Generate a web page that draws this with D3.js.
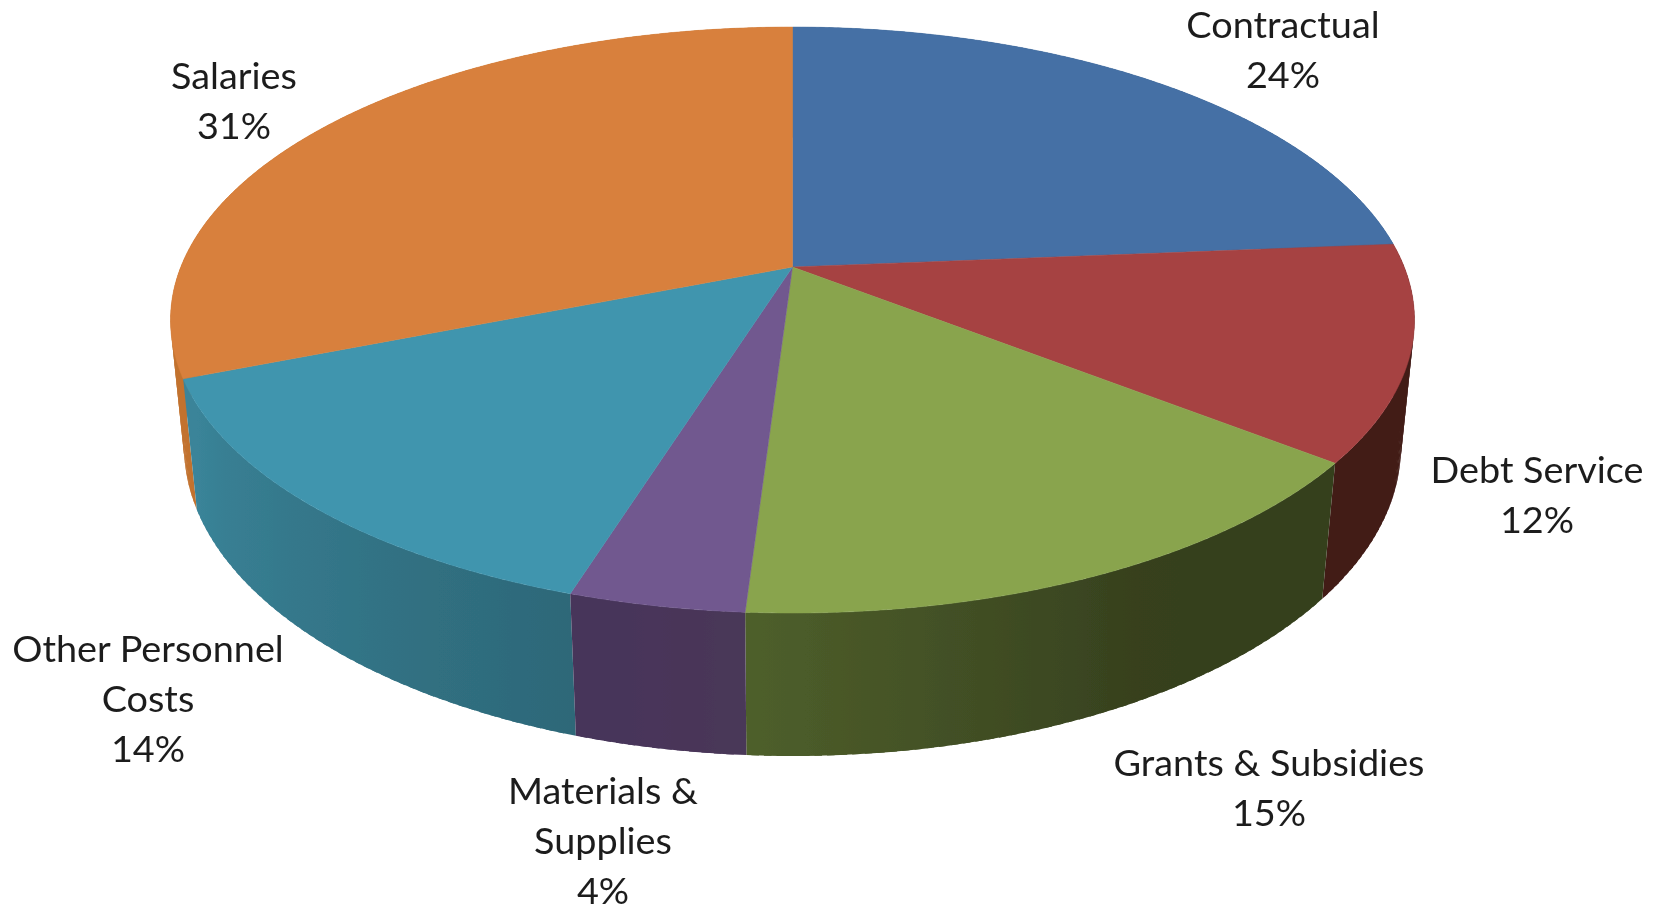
<!DOCTYPE html>
<html><head><meta charset="utf-8">
<script src="https://cdn.jsdelivr.net/npm/d3@7"></script>
<style>html,body{margin:0;padding:0;background:#fff}svg{display:block}text{font-family:Lato,"Open Sans",sans-serif;font-size:36px;fill:#1c1c1c;text-anchor:middle}</style>
</head><body><svg id="c" width="1662" height="911"></svg>
<script>
const categories=["Contractual","Debt Service","Grants & Subsidies","Materials & Supplies","Other Personnel Costs","Salaries"];
const values=[23.7,11.85,15.46,3.85,14.14,31];
const topColors=["#4570a5","#a64342","#89a44e","#71588f","#4095ae","#d8803c"];
const sideNear=["#3a5c88","#421b19","#36401e","#4a3759","#2d6878","#c2722f"];
const sideFar=["#3a5c88","#421b19","#4e5f2b","#46345a","#3a8499","#c2722f"];
const labelLines=[["Contractual","24%"],["Debt Service","12%"],["Grants & Subsidies","15%"],["Materials &","Supplies","4%"],["Other Personnel","Costs","14%"],["Salaries","31%"]];
const labelAnchors=[[1283,25],[1537,470],[1269,763],[603,791],[148,649],[234,76]];

const svg=d3.select("#c");
const defs=svg.append("defs");
defs.append("filter").attr("id","soft").attr("x","-5%").attr("y","-5%").attr("width","110%").attr("height","110%")
  .append("feGaussianBlur").attr("stdDeviation",0.7);
const root=svg.append("g").attr("filter","url(#soft)");

// perspective camera for the disc
const cam={cx:792.5,cy:267,b:611.7,a:283.4,k:0.181,c:127.6,m:0.0215};
function project(t,z){
  const u=Math.sin(t),v=-Math.cos(t),w=1-cam.k*v+cam.m*z;
  return [cam.cx+cam.b*u/w, cam.cy+(cam.a*v+cam.c*z)/w];
}
const arcs=d3.pie().sort(null).value(d=>d)(values);
const DEG=Math.PI/180;
const line=d3.line();
function wall(a0,a1){
  return line([project(a0,0),project(a1,0),project(a1,1),project(a0,1)])+"Z";
}
// side wall: one horizontal gradient per slice, painted on narrow overlapping facets
const lightT=d3.scaleLinear().domain([150*DEG,262*DEG]).range([0,1]).clamp(true);
const order=arcs.map((d,i)=>({d,i})).sort((p,q)=>
  -Math.cos((p.d.startAngle+p.d.endAngle)/2)+Math.cos((q.d.startAngle+q.d.endAngle)/2));
const sides=root.append("g");
order.forEach(({d,i})=>{
  const col=d3.interpolateRgb(sideNear[i],sideFar[i]);
  const lo=lightT(d.startAngle),hi=lightT(d.endAngle);
  const N=12;
  const aS=d3.scaleLinear().domain([0,N]).range([d.startAngle,d.endAngle]);
  const samples=d3.range(N+1).map(j=>{
    const a=aS(j),lt=lightT(a);
    return {x:project(a,1)[0],c:col(hi>lo?(lt-lo)/(hi-lo):0)};
  });
  const [x0,x1]=d3.extent(samples,s=>s.x);
  const ordered=samples.slice().sort((p,q)=>p.x-q.x);
  const g=defs.append("linearGradient").attr("id","side"+i).attr("gradientUnits","userSpaceOnUse")
    .attr("x1",x0).attr("x2",x1).attr("y1",0).attr("y2",0);
  g.selectAll("stop").data(ordered).join("stop")
    .attr("offset",s=>(s.x-x0)/(x1-x0)).attr("stop-color",s=>s.c);
  const n=Math.ceil((d.endAngle-d.startAngle)/(1*DEG));
  const span=d3.scaleLinear().domain([0,n]).range([d.startAngle,d.endAngle]);
  sides.append("g").selectAll("path").data(d3.range(n)).join("path")
    .attr("d",j=>wall(span(j),Math.min(d.endAngle,span(j+1)+0.6*DEG)))
    .attr("fill",`url(#side${i})`);
});

// top face
root.append("g").selectAll("path").data(arcs).join("path")
  .attr("d",d=>{
    const n=Math.ceil((d.endAngle-d.startAngle)/(0.5*DEG));
    const s=d3.scaleLinear().domain([0,n]).range([d.startAngle,d.endAngle]);
    return line([[cam.cx,cam.cy],...d3.range(n+1).map(j=>project(s(j),0))])+"Z";
  })
  .attr("fill",(d,i)=>topColors[i]).attr("stroke",(d,i)=>topColors[i]).attr("stroke-width",0.5);

// labels
const lh=50.3;
const lab=root.append("g").selectAll("text").data(categories).join("text")
  .attr("transform",(d,i)=>`translate(${labelAnchors[i][0]},${labelAnchors[i][1]}) scale(1.05,1)`);
lab.selectAll("tspan").data((d,i)=>labelLines[i]).join("tspan")
  .attr("x",0).attr("y",(d,j)=>j*lh+12.5).text(d=>d);
</script></body></html>
